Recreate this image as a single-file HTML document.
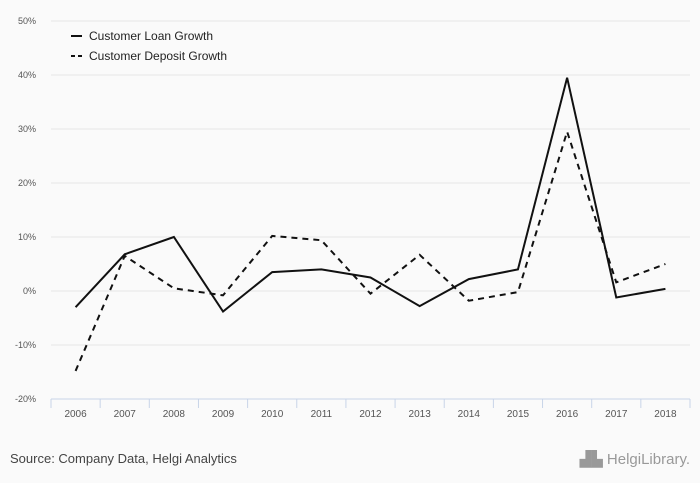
<!DOCTYPE html>
<html><head><meta charset="utf-8"><style>
body{margin:0;background:#fafafa;font-family:"Liberation Sans",sans-serif;}
svg{display:block}
</style></head><body>
<svg id="chart" width="700" height="483">
<rect width="700" height="483" fill="#fafafa"/>
<g id="grid"></g><g id="axes"></g><g id="series"></g>
<g>
<line x1="71" y1="36" x2="82" y2="36" stroke="#111" stroke-width="2"/>
<text x="89" y="40" font-size="12" fill="#222">Customer Loan Growth</text>
<line x1="71" y1="56" x2="82" y2="56" stroke="#111" stroke-width="2" stroke-dasharray="4,3"/>
<text x="89" y="60" font-size="12" fill="#222">Customer Deposit Growth</text>
</g>
<text x="10" y="463" font-size="13" fill="#444">Source: Company Data, Helgi Analytics</text>
<text x="690" y="464" font-size="15" fill="#999" text-anchor="end">▟▙ HelgiLibrary.</text>
</svg>
<script>
const categories=["2006","2007","2008","2009","2010","2011","2012","2013","2014","2015","2016","2017","2018"];
const loanGrowth=[-3,6.8,10,-3.8,3.5,4,2.5,-2.8,2.2,4,39.5,-1.2,0.4];
const depositGrowth=[-14.8,6.5,0.5,-0.8,10.2,9.4,-0.5,6.7,-1.8,-0.2,29.5,1.6,5];
const yTicks=[-20,-10,0,10,20,30,40,50];
const NS="http://www.w3.org/2000/svg";
const x0=51,x1=690,yTop=21,yBot=399,vmin=-20,vmax=50;
const bw=(x1-x0)/categories.length;
const xs=i=>x0+bw*(i+0.5);
const ys=v=>yBot-(v-vmin)/(vmax-vmin)*(yBot-yTop);
function mk(t,a,p){const e=document.createElementNS(NS,t);for(const k in a)e.setAttribute(k,a[k]);p.appendChild(e);return e;}
const grid=document.getElementById('grid'),axes=document.getElementById('axes'),ser=document.getElementById('series');
yTicks.forEach(v=>{
 const l=mk('line',{x1:x0,x2:x1,y1:ys(v),y2:ys(v),stroke:'#e6e6e6','stroke-width':1},grid);
 
 
 const t=mk('text',{x:36,y:ys(v)+3,'font-size':9,fill:'#555','text-anchor':'end'},axes);
 t.textContent=v+'%';
 
 
});
const ax=mk('line',{x1:x0,x2:x1,y1:yBot,y2:yBot,stroke:'#c8d4e8','stroke-width':1},axes);


for(let i=0;i<=categories.length;i++){
 const tk=mk('line',{x1:x0+bw*i,x2:x0+bw*i,y1:yBot,y2:yBot+9,stroke:'#c8d4e8'},axes);
 
 
}
categories.forEach((c,i)=>{
 const t=mk('text',{x:xs(i),y:417,'font-size':10,fill:'#555','text-anchor':'middle'},axes);
 t.textContent=c;
 
 
});
function line(data,dash,name){
 const p=mk('polyline',{points:data.map((v,i)=>xs(i)+','+ys(v)).join(' '),fill:'none',stroke:'#111','stroke-width':2,'stroke-dasharray':dash},ser);
 
 
}
line(loanGrowth,'none','loan-growth-line');
line(depositGrowth,'6,5','deposit-growth-line');
</script>
</body></html>
